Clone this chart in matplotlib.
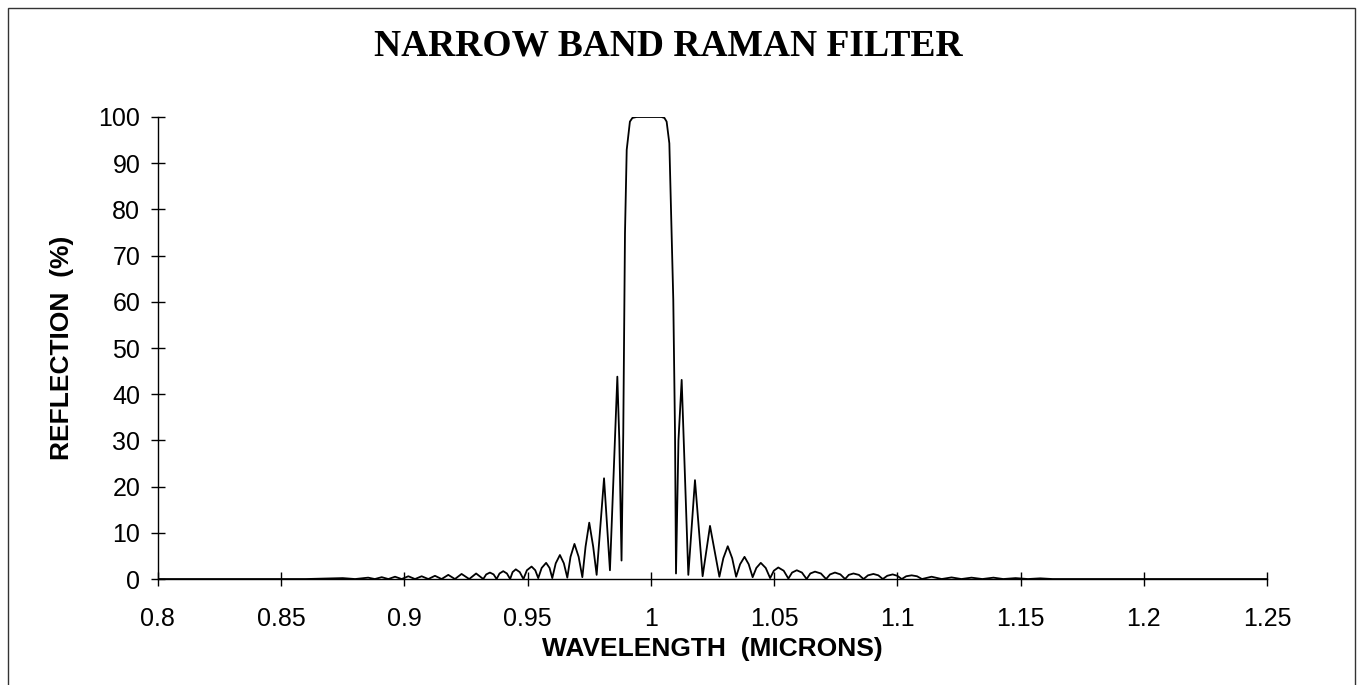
import matplotlib.pyplot as plt
from matplotlib.patches import Rectangle

# Data (wavelength in microns, reflection in %)
# far left tail: tiny ripples
left_tail_wl = [0.800, 0.860, 0.875, 0.880, 0.8853, 0.8880, 0.8908, 0.8935, 0.8962, 0.8989,
                0.9016, 0.9043, 0.9070, 0.9097, 0.9124, 0.9151, 0.9178, 0.9205, 0.9232, 0.9263,
                0.9291, 0.9320]
left_tail_r = [0.0, 0.0, 0.2, 0.0, 0.3, 0.0, 0.4, 0.0, 0.5, 0.0,
               0.6, 0.0, 0.6, 0.0, 0.7, 0.0, 0.9, 0.0, 1.1, 0.0,
               1.2, 0.0]

# left side lobes growing towards the band
left_lobes_wl = [0.9332, 0.9347, 0.9362, 0.9374, 0.9386, 0.9401, 0.9416, 0.9429,
                 0.9439, 0.9452, 0.9468, 0.9483, 0.9497, 0.9516, 0.9531, 0.9543,
                 0.9557, 0.9575, 0.9589, 0.9600, 0.9614, 0.9631, 0.9647, 0.9661,
                 0.9674, 0.9690, 0.9707, 0.9722, 0.9735, 0.9750, 0.9766, 0.9780,
                 0.9810, 0.9834, 0.9864, 0.9872, 0.9881]
left_lobes_r = [1.0, 1.4, 1.0, 0.0, 1.2, 1.7, 1.2, 0.0,
                1.5, 2.1, 1.5, 0.0, 1.9, 2.7, 1.9, 0.2,
                2.4, 3.5, 2.4, 0.2, 3.4, 5.2, 3.4, 0.3,
                4.8, 7.6, 4.8, 0.4, 7.0, 12.2, 7.0, 0.9,
                21.8, 1.9, 43.8, 30.0, 4.0]

# the reflection band itself
band_wl = [0.9888, 0.9895, 0.9902, 0.9915, 0.9925, 0.9942, 1.0043, 1.0055, 1.0064, 1.0075,
           1.0091, 1.0098, 1.0102]
band_r = [31.5, 74.8, 92.9, 99.0, 99.8, 100.0, 100.0, 99.8, 99.0, 94.3,
          60.4, 31.6, 1.2]

# right side lobes
right_lobes_wl = [1.0112, 1.0125, 1.0152, 1.0179, 1.0210, 1.0240, 1.0278,
                  1.0294, 1.0312, 1.0330, 1.0346, 1.0362, 1.0380, 1.0397, 1.0413,
                  1.0428, 1.0446, 1.0466, 1.0484, 1.0499, 1.0517, 1.0539, 1.0558,
                  1.0573, 1.0592, 1.0613, 1.0632, 1.0647, 1.0666, 1.0690, 1.0711,
                  1.0727, 1.0747, 1.0769, 1.0788, 1.0803, 1.0822, 1.0844, 1.0863,
                  1.0881, 1.0903, 1.0923, 1.0941, 1.0959, 1.0981, 1.1000, 1.1018,
                  1.1036, 1.1058, 1.1080, 1.1100]
right_lobes_r = [30.0, 43.1, 0.9, 21.4, 0.6, 11.5, 0.5,
                 4.5, 7.1, 4.5, 0.5, 3.2, 4.8, 3.2, 0.4,
                 2.4, 3.5, 2.4, 0.2, 1.8, 2.5, 1.8, 0.1,
                 1.4, 1.9, 1.4, 0.0, 1.2, 1.6, 1.2, 0.0,
                 1.0, 1.4, 1.0, 0.0, 0.9, 1.2, 0.9, 0.0,
                 0.8, 1.1, 0.8, 0.0, 0.7, 1.0, 0.7, 0.0,
                 0.6, 0.8, 0.6, 0.0]

# far right tail
right_tail_wl = [1.1139, 1.1180, 1.1220, 1.1260, 1.1301, 1.1345, 1.1390,
                 1.1430, 1.1480, 1.1530, 1.1580, 1.1630, 1.2500]
right_tail_r = [0.5, 0.0, 0.35, 0.0, 0.3, 0.0, 0.3,
                0.0, 0.2, 0.0, 0.15, 0.0, 0.0]

x_ticks = [0.8, 0.85, 0.9, 0.95, 1.0, 1.05, 1.1, 1.15, 1.2, 1.25]
x_tick_labels = ['0.8', '0.85', '0.9', '0.95', '1', '1.05', '1.1', '1.15', '1.2', '1.25']
y_ticks = list(range(0, 101, 10))

wavelength = left_tail_wl + left_lobes_wl + band_wl + right_lobes_wl + right_tail_wl
reflection = left_tail_r + left_lobes_r + band_r + right_lobes_r + right_tail_r

fig = plt.figure(figsize=(13.58, 6.85), dpi=100)
ax = fig.add_axes([0.1163, 0.1547, 0.8167, 0.6745])

ax.plot(wavelength, reflection, color='black', linewidth=1.3)

ax.set_xlim(0.8, 1.25)
ax.set_ylim(0, 100)
ax.set_xticks(x_ticks)
ax.set_xticklabels(x_tick_labels)
ax.set_yticks(y_ticks)

for side in ['top', 'right']:
    ax.spines[side].set_visible(False)
for side in ['left', 'bottom']:
    ax.spines[side].set_linewidth(1.0)

ax.tick_params(direction='inout', length=9.4, width=1.0, labelsize=18)
ax.tick_params(axis='x', pad=15.5)
ax.tick_params(axis='y', pad=8)
for lbl in ax.get_xticklabels() + ax.get_yticklabels():
    lbl.set_fontfamily('Liberation Sans')

ax.set_xlabel('WAVELENGTH  (MICRONS)', fontsize=19, fontweight='bold',
              fontfamily='Liberation Sans', va='center')
ax.xaxis.set_label_coords(0.5, -0.1515)
ax.set_ylabel('REFLECTION  (%)', fontsize=19, fontweight='bold',
              fontfamily='Liberation Sans', va='center')
ax.yaxis.set_label_coords(-0.0866, 0.5)

fig.text(668 / 1358, 1 - 46 / 685, 'NARROW BAND RAMAN FILTER', ha='center', va='center',
         fontsize=27, fontweight='bold', fontfamily='Liberation Serif')

# frame around the chart area
fig.patches.append(Rectangle((8 / 1358, -0.05), 1347 / 1358, 1.05 - 8 / 685,
                             transform=fig.transFigure, fill=False,
                             edgecolor='#333333', linewidth=1.0))

fig.savefig('out.png', dpi=100)
